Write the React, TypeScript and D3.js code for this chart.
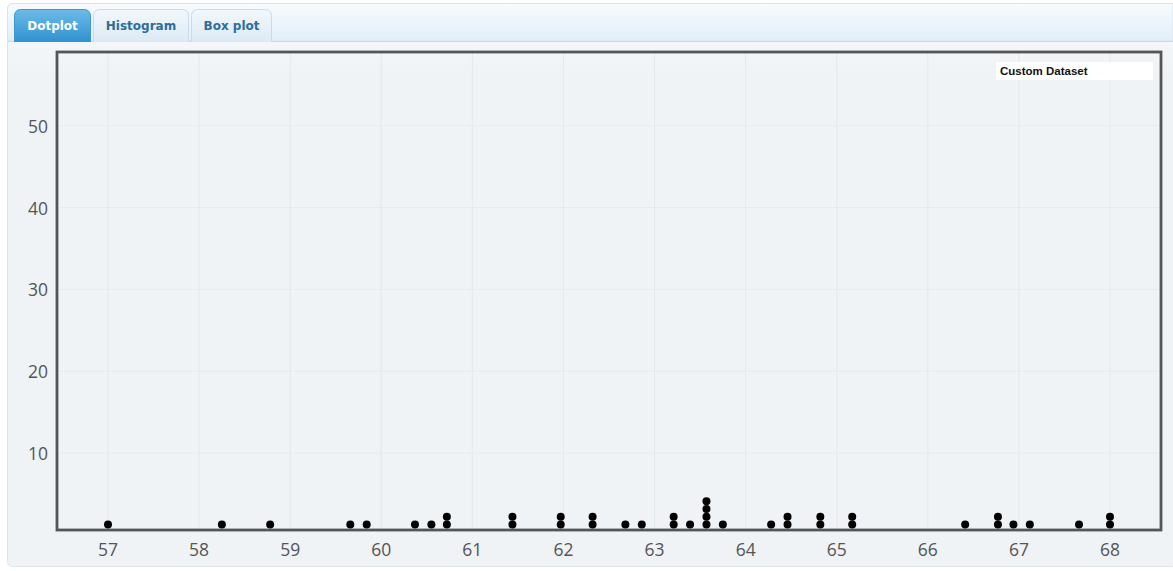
import * as d3 from "d3";
import { useEffect } from "react";

// dot positions (x) and how many dots are stacked there
const dotValues = [
  57.0, 58.25, 58.78, 59.66, 59.84, 60.37, 60.55, 60.72, 61.44, 61.97, 62.32,
  62.68, 62.86, 63.21, 63.39, 63.57, 63.75, 64.28, 64.46, 64.82, 65.17, 66.41,
  66.77, 66.94, 67.12, 67.66, 68.0,
];
const dotCounts = [
  1, 1, 1, 1, 1, 1, 1, 2, 2, 2, 2, 1, 1, 2, 1, 4, 1, 1, 2, 2, 2, 1, 2, 1, 1, 1, 2,
];
const xTicks = [57, 58, 59, 60, 61, 62, 63, 64, 65, 66, 67, 68];
const yTicks = [10, 20, 30, 40, 50];
const tabs = ["Dotplot", "Histogram", "Box plot"];
const legendLabel = "Custom Dataset";

const W = 1173;
const H = 571;
const TICK_FONT = "17.5px 'Open Sans', sans-serif";

const App = () => {
  useEffect(() => {
    document.body.style.margin = "0";
  }, []);

  const plot = { left: 57, right: 1161, top: 52, bottom: 530 };
  const x = d3.scaleLinear().domain([56.44, 68.56]).range([plot.left, plot.right]);
  const y = d3.scaleLinear().domain([0.6, 59]).range([plot.bottom, plot.top]);
  const r = 4;

  const dots = dotValues.flatMap((v, i) =>
    d3.range(dotCounts[i]).map((k) => ({ v, k })),
  );

  const tabWidths = [77, 96, 81];
  const tabX = tabWidths.map((_, i) => 14 + d3.sum(tabWidths.slice(0, i)) + i * 2);

  return (
    <svg width={W} height={H} style={{ display: "block" }}>
      <defs>
        <linearGradient id="strip" x1="0" y1="0" x2="0" y2="1">
          <stop offset="0" stopColor="#f7fbfe" />
          <stop offset="1" stopColor="#e2eef8" />
        </linearGradient>
        <linearGradient id="panel" x1="0" y1="0" x2="0" y2="1">
          <stop offset="0" stopColor="#fbfcfd" />
          <stop offset="0.12" stopColor="#eff3f6" />
          <stop offset="1" stopColor="#eff3f6" />
        </linearGradient>
        <linearGradient id="tabActive" x1="0" y1="0" x2="0" y2="1">
          <stop offset="0" stopColor="#6dbbe8" />
          <stop offset="1" stopColor="#2f92d0" />
        </linearGradient>
        <linearGradient id="tabIdle" x1="0" y1="0" x2="0" y2="1">
          <stop offset="0" stopColor="#f2f8fc" />
          <stop offset="1" stopColor="#dceaf5" />
        </linearGradient>
      </defs>

      {/* outer widget */}
      <rect x={7.5} y={3.5} width={W - 4} height={563} rx={5} fill="url(#panel)" stroke="#dde4ea" />
      <path d={`M7.5,41 V8.5 a5,5 0 0 1 5,-5 H${W} V41 Z`} fill="url(#strip)" stroke="#d6e4ef" />
      <line x1={7.5} x2={W} y1={41.5} y2={41.5} stroke="#c3dbee" />

      {tabs.map((t, i) => (
        <g key={t}>
          <path
            d={`M${tabX[i] + 0.5},42 V${15.5} a6,6 0 0 1 6,-6 H${tabX[i] + tabWidths[i] - 6.5} a6,6 0 0 1 6,6 V42`}
            fill={i === 0 ? "url(#tabActive)" : "url(#tabIdle)"}
            stroke={i === 0 ? "#3b98d4" : "#c6dcee"}
          />
          <text
            x={tabX[i] + tabWidths[i] / 2}
            y={30}
            textAnchor="middle"
            fill={i === 0 ? "#ffffff" : "#2d6d9b"}
            style={{ font: "bold 12px 'DejaVu Sans', sans-serif" }}
          >
            {t}
          </text>
        </g>
      ))}

      {/* grid */}
      {xTicks.map((t) => (
        <line key={`gx${t}`} x1={x(t)} x2={x(t)} y1={plot.top} y2={plot.bottom} stroke="#e3e8ec" />
      ))}
      {yTicks.map((t) => (
        <line key={`gy${t}`} x1={plot.left} x2={plot.right} y1={y(t)} y2={y(t)} stroke="#e6eaee" />
      ))}

      {/* legend */}
      <rect x={996} y={62} width={157} height={18} fill="#ffffff" />
      <text x={1000} y={75} fill="#111" style={{ font: "bold 11.5px 'Liberation Sans', Arial, sans-serif" }}>
        {legendLabel}
      </text>

      {/* frame */}
      <rect
        x={plot.left}
        y={plot.top}
        width={plot.right - plot.left}
        height={plot.bottom - plot.top}
        fill="none"
        stroke="#555"
        strokeWidth={2.8}
      />

      {/* dots */}
      {dots.map((d, i) => (
        <circle key={i} cx={x(d.v)} cy={plot.bottom - r - 1.6 - d.k * 7.7} r={r} fill="#000" />
      ))}

      {/* tick labels */}
      {xTicks.map((t) => (
        <text key={`tx${t}`} x={x(t)} y={556} textAnchor="middle" fill="#555" style={{ font: TICK_FONT }}>
          {t}
        </text>
      ))}
      {yTicks.map((t) => (
        <text
          key={`ty${t}`}
          x={48}
          y={y(t)}
          textAnchor="end"
          dominantBaseline="central"
          fill="#555"
          style={{ font: TICK_FONT }}
        >
          {t}
        </text>
      ))}
    </svg>
  );
};

export default App;
